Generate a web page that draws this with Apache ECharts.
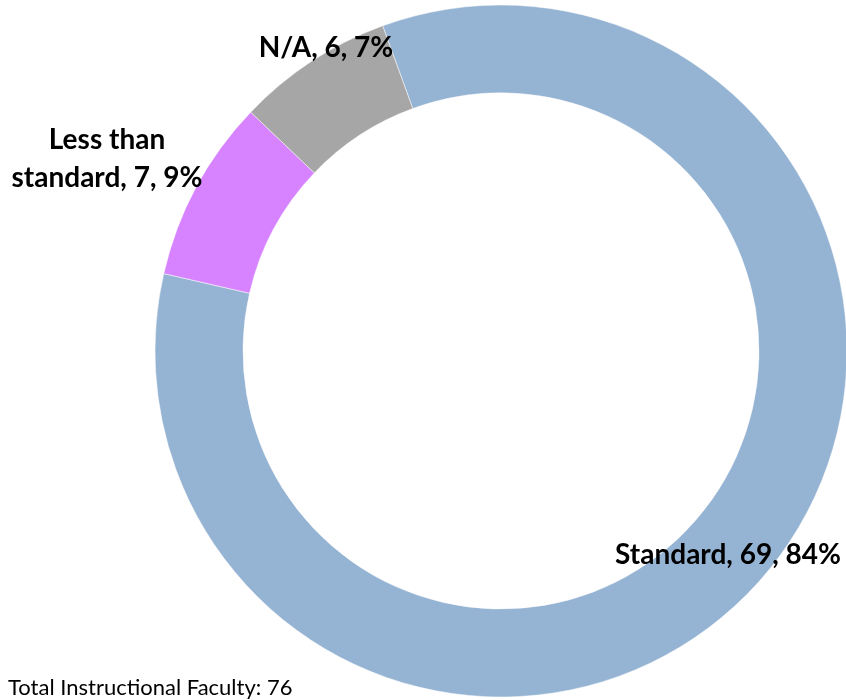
<!DOCTYPE html>
<html>
<head>
<meta charset="utf-8">
<script src="https://cdn.jsdelivr.net/npm/echarts@6/dist/echarts.min.js"></script>
<style>
  html, body { margin: 0; padding: 0; background: #fff; }
  #chart { width: 846px; height: 700px; }
</style>
</head>
<body>
<div id="chart"></div>
<script>
// data
const categories = ["Standard", "Less than\nstandard", "N/A"];
const counts = [69, 7, 6];
const percents = [84, 9, 7];
const sliceColors = ["#95b3d3", "#d783ff", "#a6a6a6"];
const footerText = "Total Instructional Faculty: 76";

// where each label sits (pixel centre)
const labelSpots = [[728, 555], [107, 159], [326, 48]];

const chart = echarts.init(document.getElementById("chart"));

chart.setOption({
    animation: false,
    title: {
        text: footerText,
        left: 3,
        top: 672,
        textStyle: {
            fontFamily: "Lato",
            fontWeight: "normal",
            fontSize: 22,
            color: "#000"
        }
    },
    series: [{
        type: "pie",
        center: [501, 351],
        radius: [258, 346],
        startAngle: 110,
        clockwise: true,
        silent: true,
        itemStyle: { borderColor: "#fff", borderWidth: 0.5 },
        labelLine: { show: false },
        label: {
            show: true,
            position: "inside",
            fontFamily: "Lato",
            fontWeight: "bold",
            fontSize: 28,
            lineHeight: 38,
            color: "#000",
            align: "center",
            formatter: function (p) {
                return p.name + ", " + p.value + ", " + percents[p.dataIndex] + "%";
            }
        },
        labelLayout: function (params) {
            const spot = labelSpots[params.dataIndex];
            return { x: spot[0], y: spot[1], align: "center", verticalAlign: "middle" };
        },
        data: categories.map((name, i) => ({
            name: name,
            value: counts[i],
            itemStyle: { color: sliceColors[i] }
        }))
    }]
});
</script>
</body>
</html>
